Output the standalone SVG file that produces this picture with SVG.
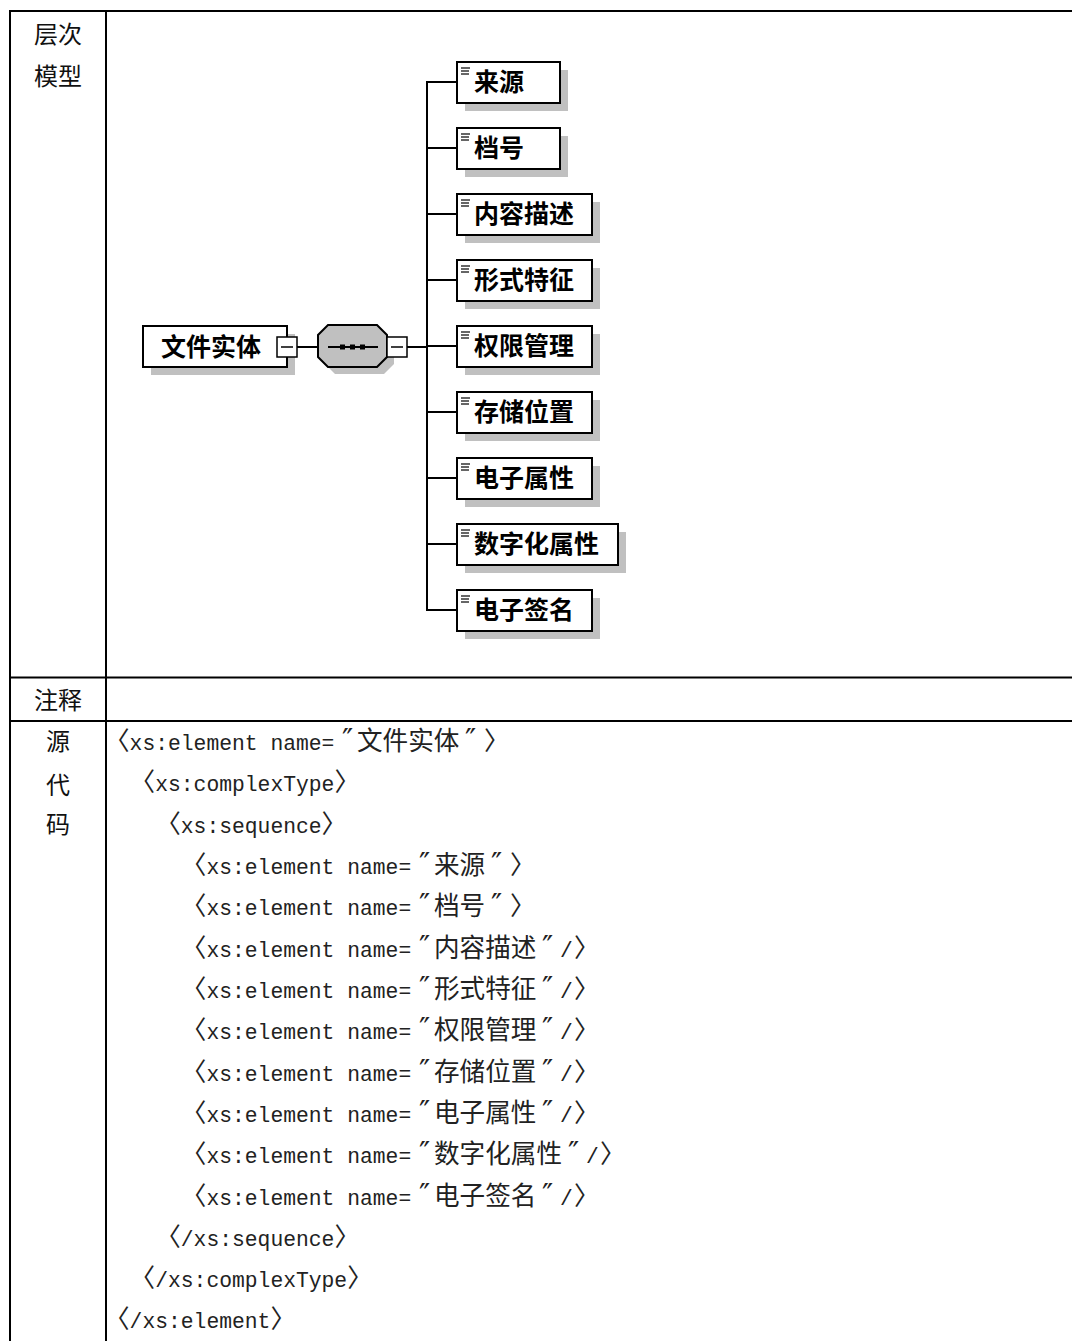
<svg xmlns="http://www.w3.org/2000/svg" width="1072" height="1341" viewBox="0 0 1072 1341">
<style>
.tbl{stroke:#000;stroke-width:2;fill:none}
.lbl{font-family:"Noto Sans CJK SC",sans-serif;font-size:24px;fill:#111;text-anchor:middle}
.box{fill:#fff;stroke:#000;stroke-width:2}
.shd{fill:#c0c0c0;stroke:none}
.name{font-family:"Noto Sans CJK SC",sans-serif;font-size:25px;font-weight:bold;fill:#000}
.con{stroke:#000;stroke-width:2;fill:none}
.ico{stroke:#000;stroke-width:1.2}
.sq{fill:#fff;stroke:#000;stroke-width:1.5}
.cj{font-family:"Noto Sans CJK SC",sans-serif;font-size:25.6px;fill:#222}
.as{font-family:"Liberation Mono","DejaVu Sans Mono",monospace;font-size:21.33px;fill:#222}
.qt{font-family:"DejaVu Sans",sans-serif;font-size:30px;fill:#222}
</style>
<rect width="1072" height="1341" fill="#fff"/>
<g id="table">
<line class="tbl" x1="9" y1="11" x2="1072" y2="11"/>
<line class="tbl" x1="10" y1="10" x2="10" y2="1341"/>
<line class="tbl" x1="106" y1="10" x2="106" y2="1341"/>
<line class="tbl" x1="9" y1="677.5" x2="1072" y2="677.5"/>
<line class="tbl" x1="9" y1="721" x2="1072" y2="721"/>
<text class="lbl" x="58" y="43">层次</text>
<text class="lbl" x="58" y="85">模型</text>
<text class="lbl" x="58" y="709">注释</text>
<text class="lbl" x="58" y="750">源</text>
<text class="lbl" x="58" y="794">代</text>
<text class="lbl" x="58" y="833">码</text>
</g>
<g id="connectors">
<line class="con" x1="297" y1="347" x2="318" y2="347"/>
<line class="con" x1="407" y1="347" x2="427" y2="347"/>
<line class="con" x1="427" y1="81" x2="427" y2="611"/>
<line class="con" x1="426" y1="82" x2="457" y2="82"/>
<line class="con" x1="426" y1="148" x2="457" y2="148"/>
<line class="con" x1="426" y1="214" x2="457" y2="214"/>
<line class="con" x1="426" y1="280" x2="457" y2="280"/>
<line class="con" x1="426" y1="346" x2="457" y2="346"/>
<line class="con" x1="426" y1="412" x2="457" y2="412"/>
<line class="con" x1="426" y1="478" x2="457" y2="478"/>
<line class="con" x1="426" y1="544" x2="457" y2="544"/>
<line class="con" x1="426" y1="610" x2="457" y2="610"/>
</g>
<g id="root">
<rect class="shd" x="151" y="334" width="144" height="41"/>
<rect class="box" x="143" y="326" width="144" height="41"/>
<text class="name" x="161" y="356">文件实体</text>
<rect class="sq" x="277" y="337" width="20" height="20"/>
<line class="con" x1="281" y1="347" x2="293" y2="347" style="stroke-width:1.5"/>
</g>
<g id="sequence">
<polygon class="shd" points="335,332 384,332 394,342 394,364 384,374 335,374 325,364 325,342"/>
<polygon points="328,325 377,325 387,335 387,357 377,367 328,367 318,357 318,335" fill="#c0c0c0" stroke="#000" stroke-width="2"/>
<line class="con" x1="328" y1="347" x2="378" y2="347"/>
<rect x="340" y="344.5" width="5" height="5" fill="#000"/>
<rect x="350" y="344.5" width="5" height="5" fill="#000"/>
<rect x="360" y="344.5" width="5" height="5" fill="#000"/>
<rect class="sq" x="387" y="337" width="20" height="20"/>
<line class="con" x1="391" y1="347" x2="403" y2="347" style="stroke-width:1.5"/>
</g>
<g id="n1"><rect class="shd" x="465" y="70" width="103" height="41"/><rect class="box" x="457" y="62" width="103" height="41"/><line class="ico" x1="461" y1="68" x2="470" y2="68"/><line class="ico" x1="461" y1="71" x2="469" y2="71"/><line class="ico" x1="461" y1="74" x2="469" y2="74"/><text class="name" x="474" y="91">来源</text></g>
<g id="n2"><rect class="shd" x="465" y="136" width="103" height="41"/><rect class="box" x="457" y="128" width="103" height="41"/><line class="ico" x1="461" y1="134" x2="470" y2="134"/><line class="ico" x1="461" y1="137" x2="469" y2="137"/><line class="ico" x1="461" y1="140" x2="469" y2="140"/><text class="name" x="474" y="157">档号</text></g>
<g id="n3"><rect class="shd" x="465" y="202" width="135" height="41"/><rect class="box" x="457" y="194" width="135" height="41"/><line class="ico" x1="461" y1="200" x2="470" y2="200"/><line class="ico" x1="461" y1="203" x2="469" y2="203"/><line class="ico" x1="461" y1="206" x2="469" y2="206"/><text class="name" x="474" y="223">内容描述</text></g>
<g id="n4"><rect class="shd" x="465" y="268" width="135" height="41"/><rect class="box" x="457" y="260" width="135" height="41"/><line class="ico" x1="461" y1="266" x2="470" y2="266"/><line class="ico" x1="461" y1="269" x2="469" y2="269"/><line class="ico" x1="461" y1="272" x2="469" y2="272"/><text class="name" x="474" y="289">形式特征</text></g>
<g id="n5"><rect class="shd" x="465" y="334" width="135" height="41"/><rect class="box" x="457" y="326" width="135" height="41"/><line class="ico" x1="461" y1="332" x2="470" y2="332"/><line class="ico" x1="461" y1="335" x2="469" y2="335"/><line class="ico" x1="461" y1="338" x2="469" y2="338"/><text class="name" x="474" y="355">权限管理</text></g>
<g id="n6"><rect class="shd" x="465" y="400" width="135" height="41"/><rect class="box" x="457" y="392" width="135" height="41"/><line class="ico" x1="461" y1="398" x2="470" y2="398"/><line class="ico" x1="461" y1="401" x2="469" y2="401"/><line class="ico" x1="461" y1="404" x2="469" y2="404"/><text class="name" x="474" y="421">存储位置</text></g>
<g id="n7"><rect class="shd" x="465" y="466" width="135" height="41"/><rect class="box" x="457" y="458" width="135" height="41"/><line class="ico" x1="461" y1="464" x2="470" y2="464"/><line class="ico" x1="461" y1="467" x2="469" y2="467"/><line class="ico" x1="461" y1="470" x2="469" y2="470"/><text class="name" x="474" y="487">电子属性</text></g>
<g id="n8"><rect class="shd" x="465" y="532" width="161" height="41"/><rect class="box" x="457" y="524" width="161" height="41"/><line class="ico" x1="461" y1="530" x2="470" y2="530"/><line class="ico" x1="461" y1="533" x2="469" y2="533"/><line class="ico" x1="461" y1="536" x2="469" y2="536"/><text class="name" x="474" y="553">数字化属性</text></g>
<g id="n9"><rect class="shd" x="465" y="598" width="135" height="41"/><rect class="box" x="457" y="590" width="135" height="41"/><line class="ico" x1="461" y1="596" x2="470" y2="596"/><line class="ico" x1="461" y1="599" x2="469" y2="599"/><line class="ico" x1="461" y1="602" x2="469" y2="602"/><text class="name" x="474" y="619">电子签名</text></g>
<g id="code">
<text y="750"><tspan class="cj" x="104">〈</tspan><tspan class="as" x="129.6">xs:element name=</tspan><tspan class="qt" x="342">″</tspan><tspan class="cj" x="357">文件实体</tspan><tspan class="qt" x="465">″</tspan><tspan class="cj" x="484">〉</tspan></text>
<text y="791"><tspan class="cj" x="129.6">〈</tspan><tspan class="as" x="155.2">xs:complexType</tspan><tspan class="cj" x="334.4">〉</tspan></text>
<text y="833"><tspan class="cj" x="155.2">〈</tspan><tspan class="as" x="180.8">xs:sequence</tspan><tspan class="cj" x="321.6">〉</tspan></text>
<text y="874"><tspan class="cj" x="180.8">〈</tspan><tspan class="as" x="206.4">xs:element name=</tspan><tspan class="qt" x="419">″</tspan><tspan class="cj" x="434">来源</tspan><tspan class="qt" x="491">″</tspan><tspan class="cj" x="510">〉</tspan></text>
<text y="915"><tspan class="cj" x="180.8">〈</tspan><tspan class="as" x="206.4">xs:element name=</tspan><tspan class="qt" x="419">″</tspan><tspan class="cj" x="434">档号</tspan><tspan class="qt" x="491">″</tspan><tspan class="cj" x="510">〉</tspan></text>
<text y="957"><tspan class="cj" x="180.8">〈</tspan><tspan class="as" x="206.4">xs:element name=</tspan><tspan class="qt" x="419">″</tspan><tspan class="cj" x="434">内容描述</tspan><tspan class="qt" x="542">″</tspan><tspan class="as" x="560">/</tspan><tspan class="cj" x="574">〉</tspan></text>
<text y="998"><tspan class="cj" x="180.8">〈</tspan><tspan class="as" x="206.4">xs:element name=</tspan><tspan class="qt" x="419">″</tspan><tspan class="cj" x="434">形式特征</tspan><tspan class="qt" x="542">″</tspan><tspan class="as" x="560">/</tspan><tspan class="cj" x="574">〉</tspan></text>
<text y="1039"><tspan class="cj" x="180.8">〈</tspan><tspan class="as" x="206.4">xs:element name=</tspan><tspan class="qt" x="419">″</tspan><tspan class="cj" x="434">权限管理</tspan><tspan class="qt" x="542">″</tspan><tspan class="as" x="560">/</tspan><tspan class="cj" x="574">〉</tspan></text>
<text y="1081"><tspan class="cj" x="180.8">〈</tspan><tspan class="as" x="206.4">xs:element name=</tspan><tspan class="qt" x="419">″</tspan><tspan class="cj" x="434">存储位置</tspan><tspan class="qt" x="542">″</tspan><tspan class="as" x="560">/</tspan><tspan class="cj" x="574">〉</tspan></text>
<text y="1122"><tspan class="cj" x="180.8">〈</tspan><tspan class="as" x="206.4">xs:element name=</tspan><tspan class="qt" x="419">″</tspan><tspan class="cj" x="434">电子属性</tspan><tspan class="qt" x="542">″</tspan><tspan class="as" x="560">/</tspan><tspan class="cj" x="574">〉</tspan></text>
<text y="1163"><tspan class="cj" x="180.8">〈</tspan><tspan class="as" x="206.4">xs:element name=</tspan><tspan class="qt" x="419">″</tspan><tspan class="cj" x="434">数字化属性</tspan><tspan class="qt" x="568">″</tspan><tspan class="as" x="586">/</tspan><tspan class="cj" x="600">〉</tspan></text>
<text y="1205"><tspan class="cj" x="180.8">〈</tspan><tspan class="as" x="206.4">xs:element name=</tspan><tspan class="qt" x="419">″</tspan><tspan class="cj" x="434">电子签名</tspan><tspan class="qt" x="542">″</tspan><tspan class="as" x="560">/</tspan><tspan class="cj" x="574">〉</tspan></text>
<text y="1246"><tspan class="cj" x="155.2">〈</tspan><tspan class="as" x="180.8">/xs:sequence</tspan><tspan class="cj" x="334.4">〉</tspan></text>
<text y="1287"><tspan class="cj" x="129.6">〈</tspan><tspan class="as" x="155.2">/xs:complexType</tspan><tspan class="cj" x="347.2">〉</tspan></text>
<text y="1328"><tspan class="cj" x="104">〈</tspan><tspan class="as" x="129.6">/xs:element</tspan><tspan class="cj" x="270.4">〉</tspan></text>
</g>
</svg>
